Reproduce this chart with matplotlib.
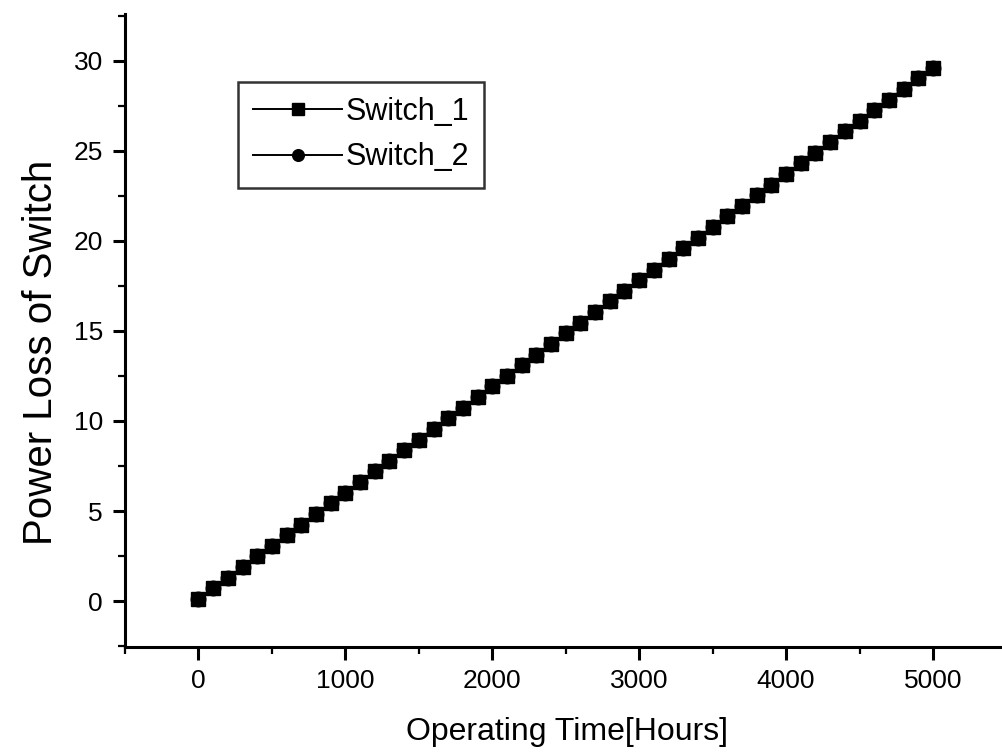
import matplotlib.pyplot as plt
from matplotlib.ticker import MultipleLocator

plt.rcParams['font.family'] = ['Liberation Sans', 'DejaVu Sans']

# 运行时间 (小时)
hours = [0, 100, 200, 300, 400, 500, 600, 700, 800, 900,
         1000, 1100, 1200, 1300, 1400, 1500, 1600, 1700, 1800, 1900,
         2000, 2100, 2200, 2300, 2400, 2500, 2600, 2700, 2800, 2900,
         3000, 3100, 3200, 3300, 3400, 3500, 3600, 3700, 3800, 3900,
         4000, 4100, 4200, 4300, 4400, 4500, 4600, 4700, 4800, 4900, 5000]

# 开关功率损耗
switch_1 = [0.12, 0.71, 1.30, 1.89, 2.48, 3.07, 3.66, 4.25, 4.84, 5.43,
            6.02, 6.61, 7.20, 7.79, 8.38, 8.97, 9.56, 10.15, 10.74, 11.33,
            11.92, 12.51, 13.10, 13.69, 14.28, 14.87, 15.46, 16.05, 16.64, 17.23,
            17.82, 18.41, 19.00, 19.59, 20.18, 20.77, 21.36, 21.95, 22.54, 23.13,
            23.72, 24.31, 24.90, 25.49, 26.08, 26.67, 27.26, 27.85, 28.44, 29.03, 29.62]
switch_2 = list(switch_1)

fig = plt.figure(figsize=(10.02, 7.56), dpi=100)
ax = fig.add_axes([0.1248, 0.1442, 0.8752, 0.8373])

ax.plot(hours, switch_2, '-o', color='black', lw=1.4, ms=10.5, label='Switch_2', zorder=2)
ax.plot(hours, switch_1, '-s', color='black', lw=1.4, ms=10.5, label='Switch_1', zorder=3)

ax.set_xlim(-500, 5470)
ax.set_ylim(-2.55, 32.6)
ax.xaxis.set_major_locator(MultipleLocator(1000))
ax.xaxis.set_minor_locator(MultipleLocator(500))
ax.yaxis.set_major_locator(MultipleLocator(5))
ax.yaxis.set_minor_locator(MultipleLocator(2.5))

for s in ['top', 'right']:
    ax.spines[s].set_visible(False)
for s in ['left', 'bottom']:
    ax.spines[s].set_linewidth(2.2)

ax.tick_params(which='major', direction='out', length=9, width=2.2, labelsize=19, pad=7)
ax.tick_params(which='minor', direction='out', length=5, width=1.6)

ax.set_xlabel('Operating Time[Hours]', fontsize=23)
ax.set_ylabel('Power Loss of Switch', fontsize=29)
ax.xaxis.set_label_coords(0.504, -0.11)
ax.yaxis.set_label_coords(-0.074, 0.466)

handles, labels = ax.get_legend_handles_labels()
leg = ax.legend(handles[::-1], labels[::-1], loc='upper left',
                bbox_to_anchor=(0.129, 0.893), borderaxespad=0, fontsize=22,
                frameon=True, fancybox=False, edgecolor='black', handlelength=2.9,
                borderpad=0.5, labelspacing=0.5, handletextpad=0.1,
                markerscale=0.8)
leg.get_frame().set_linewidth(1.8)

plt.savefig('out.png', dpi=100)
